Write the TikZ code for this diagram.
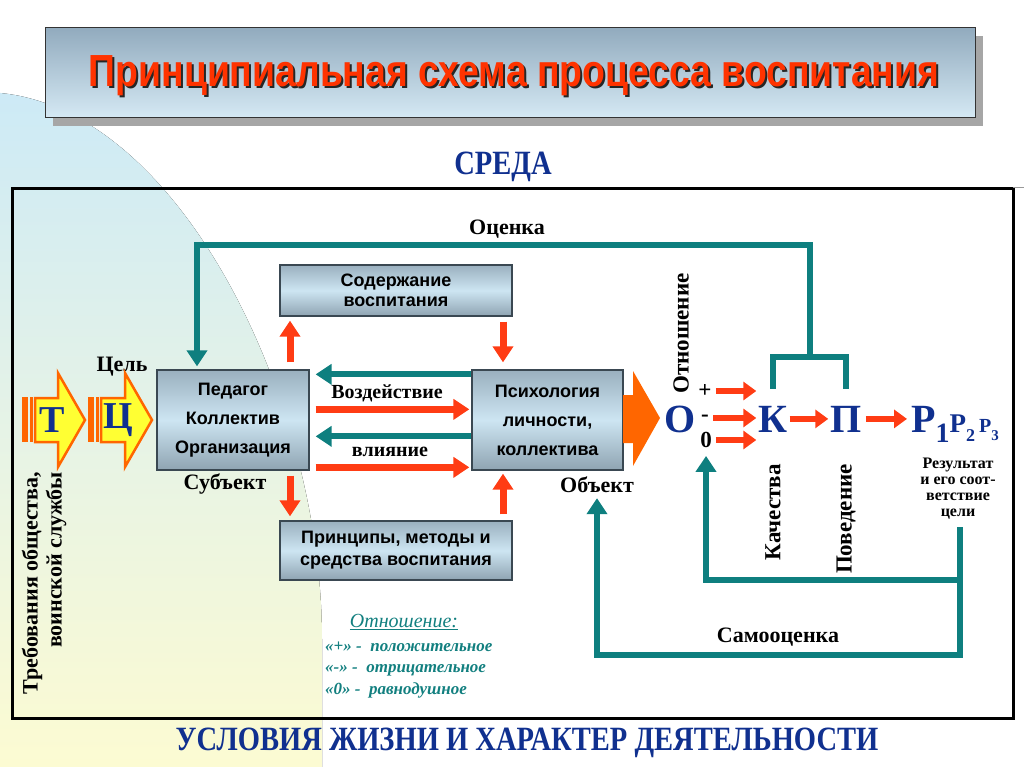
\documentclass[tikz,border=0pt]{standalone}
\usepackage{fontspec}
\setmainfont{Liberation Serif}
\setsansfont{Liberation Sans}
\newfontfamily\narrowsans{Liberation Sans}[FakeStretch=0.83]
\newfontfamily\narrowserif{Liberation Serif}[FakeStretch=0.84]
\usepackage{tikz}
\usetikzlibrary{arrows.meta,positioning,shadows}
\tikzset{>={Triangle[width=20pt,length=16pt]}}

\definecolor{letterblue}{HTML}{10308F}
\definecolor{arrred}{HTML}{FF3C14}
\definecolor{arrorange}{HTML}{FF6600}
\definecolor{arryellow}{HTML}{FFFF33}
\definecolor{loopteal}{HTML}{0E7F7F}
\definecolor{legteal}{HTML}{127F7F}
\definecolor{titlered}{HTML}{FF3300}
\definecolor{bgblue}{HTML}{CDEAF6}
\definecolor{bgmid}{HTML}{E6F3E6}
\definecolor{bgyellow}{HTML}{FCFBD2}
\definecolor{titletop}{HTML}{92ABBE}
\definecolor{titlebot}{HTML}{D5E9F4}
\definecolor{boxtop}{HTML}{9AB0BF}
\definecolor{boxmid}{HTML}{CDE5F2}
\definecolor{boxbot}{HTML}{8FA4B2}
\definecolor{boxedge}{HTML}{3A4852}

\newcommand\fsz[2]{\fontsize{#1}{#2}\selectfont}

\begin{document}
\begin{tikzpicture}[x=1pt,y=-1pt,
  box/.style={draw=boxedge,line width=1.3pt,top color=boxtop,bottom color=boxbot,middle color=boxmid,
    align=center,inner sep=0pt,font=\sffamily\bfseries\fsz{18}{20}},
  titlebox/.style={draw=black!80,line width=1pt,top color=titletop,bottom color=titlebot,
    drop shadow={shadow xshift=8pt,shadow yshift=-8pt,fill=black!35,opacity=1}},
  lbl/.style={font=\bfseries\fsz{22}{24},inner sep=1pt},
  uplbl/.style={lbl,rotate=90,font=\bfseries\fsz{23}{25}},
  big/.style={text=letterblue,font=\bfseries\fsz{40}{40},inner sep=0pt},
  sign/.style={font=\bfseries\fsz{23}{23},inner sep=0pt},
  redarr/.style={->,draw=arrred,line width=7pt},
  smallarr/.style={-{Triangle[width=18pt,length=13pt]},draw=arrred,line width=6pt},
  loop/.style={draw=loopteal,line width=6pt},
  looparr/.style={loop,->},
  legend/.style={text=legteal,font=\itshape\bfseries\fsz{17}{19},inner sep=0pt}]

  \useasboundingbox (0,0) rectangle (1024,767);

  % background
  \fill[top color=bgblue,bottom color=bgyellow,middle color=bgmid]
    (0,93) .. controls (180,110) and (322,400) .. (322,640) -- (322,767) -- (0,767) -- cycle;

  % title
  \node[titlebox,minimum width=930pt,minimum height=90pt] (title) at (510,73) {};
  \node[font=\narrowsans\bfseries\fsz{45}{45},text=black!85] at (516,78)
    {Принципиальная схема процесса воспитания};
  \node[font=\narrowsans\bfseries\fsz{45}{45},text=titlered] (titletext) at (514,76)
    {Принципиальная схема процесса воспитания};

  \node[font=\narrowserif\bfseries\fsz{34}{34},text=letterblue] (sreda) at (503,167) {СРЕДА};
  \draw[line width=3pt] (12,189) rectangle (1013,718);
  \draw[black!40,line width=1pt] (1013,188) -- (1024,188);

  % boxes
  \node[box,minimum width=152pt,minimum height=100pt,font=\sffamily\bfseries\fsz{18}{29}] (ped)
    at (233,420) {Педагог\\Коллектив\\Организация};
  \node[box,minimum width=232pt,minimum height=51pt] (soder) at (396,290.5) {Содержание\\воспитания};
  \node[box,minimum width=151pt,minimum height=100pt,font=\sffamily\bfseries\fsz{18}{29}] (psy)
    at (547.5,420) {Психология\\личности,\\коллектива};
  \node[box,minimum width=232pt,minimum height=59pt,font=\sffamily\bfseries\fsz{18}{22}] (princ)
    at (396,550.5) {Принципы, методы и\\средства воспитания};

  % labels
  \node[lbl] (cel) at (122,367) {Цель};
  \node[lbl] (subj) at (225,484) {Субъект};
  \node[lbl] (obj) at (597,485) {Объект};
  \node[lbl,font=\bfseries\fsz{20}{22}] (vozd) at (387,393) {Воздействие};
  \node[lbl,font=\bfseries\fsz{20}{22}] (vliy) at (390,452) {влияние};
  \node[lbl] (ocen) at (507,229) {Оценка};
  \node[lbl] (samo) at (778,637) {Самооценка};
  \node[uplbl,align=right,font=\bfseries\fsz{22}{24}] (treb) at (44,583)
    {Требования общества,\\воинской службы};

  % T and C arrows
  \fill[arrorange] (22,397) rectangle (28,442);
  \fill[arrorange] (30,397) rectangle (33,442);
  \draw[arrorange,fill=arryellow,line width=2.5pt]
    (35,398) -- (58,398) -- (58,373) -- (85,420) -- (58,467) -- (58,442) -- (35,442) -- cycle;
  \node[big,font=\bfseries\fsz{38}{38}] (T) at (52,420) {Т};
  \fill[arrorange] (88,397) rectangle (94,442);
  \fill[arrorange] (96,397) rectangle (99,442);
  \draw[arrorange,fill=arryellow,line width=2.5pt]
    (101,398) -- (125,398) -- (125,373) -- (152,420) -- (125,467) -- (125,442) -- (101,442) -- cycle;
  \node[big,font=\bfseries\fsz{38}{38}] (C) at (118,420) {Ц};

  % red arrows round the boxes
  \draw[redarr,shorten <=7pt,shorten >=4pt] ([xshift=57pt]ped.north) -- ([xshift=-106pt]soder.south);
  \draw[redarr,shorten <=5pt,shorten >=7pt] ([xshift=107pt]soder.south) -- ([xshift=-44.5pt]psy.north);
  \draw[redarr,shorten <=5pt,shorten >=4pt] ([xshift=57pt]ped.south) -- ([xshift=-106pt]princ.north);
  \draw[redarr,shorten <=6pt,shorten >=3pt] ([xshift=107pt]princ.north) -- ([xshift=-44.5pt]psy.south);

  \draw[looparr,shorten >=6pt] ([yshift=-5pt]psy.north west) -- ([yshift=-5pt]ped.north east);
  \draw[redarr,shorten <=6pt,shorten >=2pt] ([yshift=-40pt]ped.north east) -- ([yshift=-40pt]psy.north west);
  \draw[looparr,shorten >=6pt] ([yshift=-67pt]psy.north west) -- ([yshift=-67pt]ped.north east);
  \draw[redarr,shorten <=6pt,shorten >=2pt] ([yshift=-98pt]ped.north east) -- ([yshift=-98pt]psy.north west);

  % big orange arrow
  \fill[arrorange] (623,395) -- (633,395) -- (633,371) -- (660,418) -- (633,466) -- (633,443) -- (623,443) -- cycle;

  % O K P R
  \node[big,anchor=base] (O) at (680,432) {О};
  \node[sign] (plus) at (705,391) {+};
  \node[sign] (minus) at (705,418) {-};
  \node[sign] (zero) at (706,440) {0};
  \node[big,anchor=base] (K) at (773,432) {К};
  \node[big,anchor=base] (P) at (846,432) {П};
  \node[big,anchor=base west] (R) at (911,432)
    {Р\raisebox{-10pt}{\fsz{28}{28}1}\fsz{27}{27}Р\raisebox{-9pt}{\fsz{18}{18}2}\hspace{4pt}\fsz{20}{20}Р\raisebox{-8pt}{\fsz{15}{15}3}};

  \draw[smallarr,shorten <=4pt,shorten >=2pt] (plus.east) -- (plus.east -| K.west);
  \draw[smallarr,shorten <=4pt,shorten >=2pt] (minus.east) -- (minus.east -| K.west);
  \draw[smallarr,shorten <=4pt,shorten >=2pt] (zero.east) -- (zero.east -| K.west);
  \draw[smallarr,shorten <=2pt,shorten >=2pt] (K.east) -- (P.west);
  \draw[smallarr,shorten <=4pt,shorten >=4pt] (P.east) -- (R.west |- P.east);

  \node[uplbl,anchor=west] (otn) at (681,395) {Отношение};
  \node[uplbl,anchor=east] (kach) at (773,463) {Качества};
  \node[uplbl,anchor=east] (pov) at (846,463) {Поведение};
  \node[align=center,font=\bfseries\fsz{16}{16},inner sep=0pt] (res) at (958,489)
    {Результат\\и его соот-\\ветствие\\цели};

  % evaluation loop
  \coordinate (brk) at (810,357);
  \draw[loop] ([yshift=17pt]K.north) |- (brk) -| ([yshift=17pt]P.north);
  \draw[looparr,shorten >=3pt] (brk) -- (810,245) -| ([xshift=-36pt]ped.north);

  % self-evaluation loop
  \coordinate (resfoot) at (960,527);
  \draw[looparr,shorten >=4pt] (resfoot) -- (960,655) -| (obj.south);
  \draw[looparr,shorten >=8pt] (960,580) -| (zero.south);

  % legend
  \node[text=legteal,font=\itshape\fsz{20}{20}] (legtitle) at (404,622) {\underline{Отношение:}};
  \node[legend,anchor=base west] (leg1) at (325,651) {«+» -\ \ положительное};
  \node[legend,anchor=base west] (leg2) at (325,672) {«-» -\ \ отрицательное};
  \node[legend,anchor=base west] (leg3) at (325,694) {«0» -\ \ равнодушное};

  \node[font=\narrowserif\bfseries\fsz{34}{34},text=letterblue] (usl) at (527,743)
    {УСЛОВИЯ ЖИЗНИ И ХАРАКТЕР ДЕЯТЕЛЬНОСТИ};
\end{tikzpicture}
\end{document}
